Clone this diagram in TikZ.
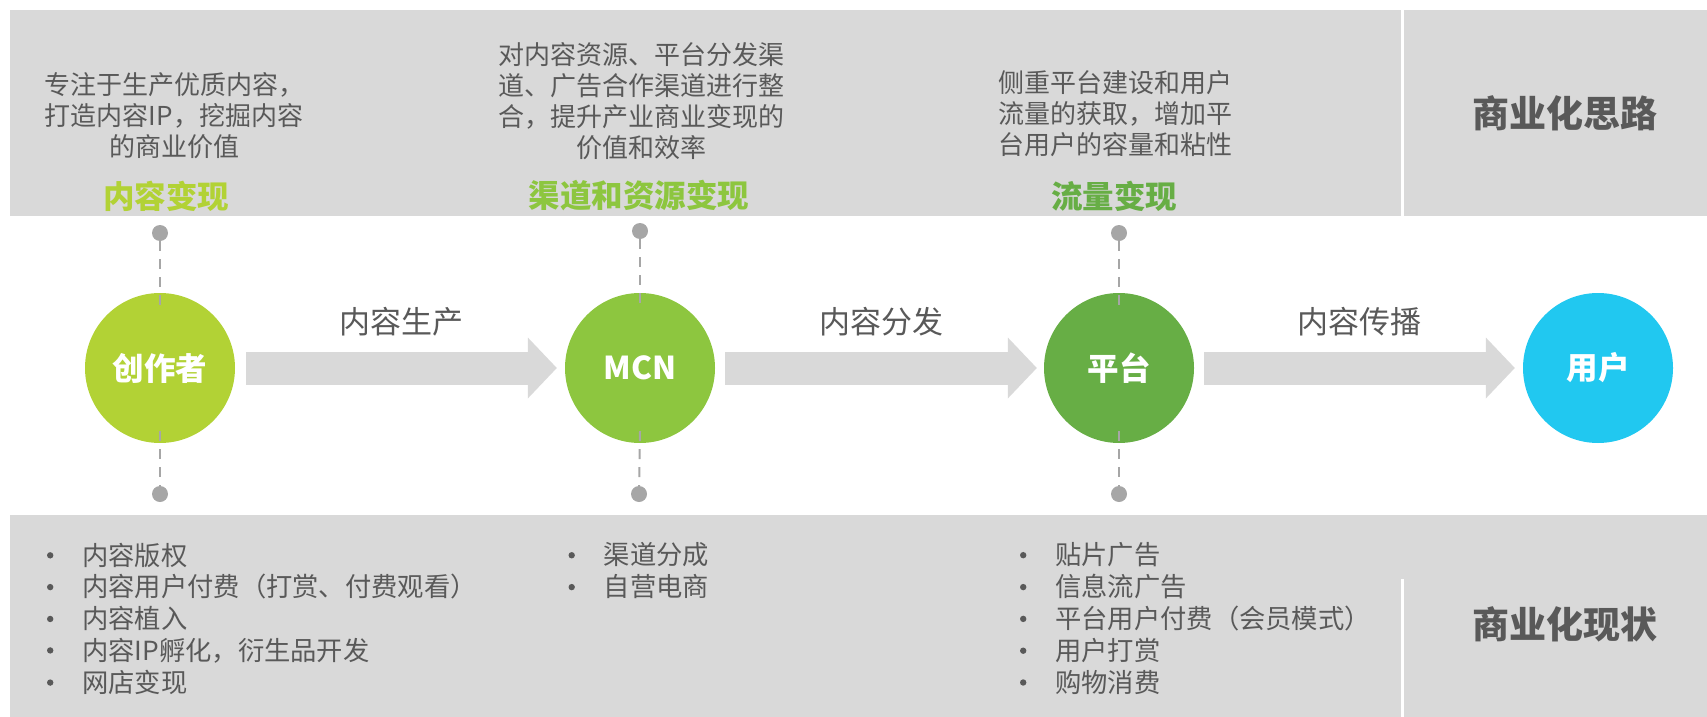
\documentclass[tikz,border=0pt]{standalone}
\usepackage{fontspec}
\setmainfont{Noto Sans CJK SC}
\usetikzlibrary{calc,arrows.meta}
\definecolor{band}{HTML}{D9D9D9}
\definecolor{txt}{HTML}{595959}
\definecolor{dotc}{HTML}{A6A6A6}
\definecolor{cA}{HTML}{B2D235}
\definecolor{cB}{HTML}{8DC63F}
\definecolor{cC}{HTML}{67AE45}
\definecolor{cD}{HTML}{21C8F0}
\newcommand\itembul{\makebox[38pt][l]{\makebox[12pt][c]{\rule[7.5pt]{0pt}{0pt}\raisebox{6.5pt}{\tikz\fill[txt] (0,0) circle (3.2pt);}}}}
\begin{document}
\begin{tikzpicture}[x=1pt,y=-1pt,
  desc/.style={align=center,text=txt,inner sep=0pt,font=\fontsize{26}{31}\selectfont},
  ttl/.style={inner sep=0pt,font=\bfseries\fontsize{31.5}{36}\selectfont},
  circ/.style={circle,minimum size=150pt,inner sep=0pt,text=white,font=\bfseries\fontsize{31.5}{36}\selectfont},
  dotn/.style={circle,fill=dotc,minimum size=16pt,inner sep=0pt},
  dashln/.style={draw=dotc,line width=2pt,dash pattern=on 10pt off 8pt},
  bigarrow/.style={draw=band,line width=33pt,-{Triangle[width=61pt,length=29pt,line width=0pt]}},
  albl/.style={text=txt,inner sep=0pt,yshift=46pt,font=\fontsize{31}{36}\selectfont},
  big/.style={text=txt,inner sep=0pt,font=\bfseries\fontsize{37}{42}\selectfont},
  item/.style={anchor=west,inner sep=0pt,text=txt,font=\fontsize{26.3}{31}\selectfont}]
\useasboundingbox (0,0) rectangle (1707,717);
% bands
\fill[band] (10,10) rectangle (1707,216);
\fill[band] (10,515) rectangle (1707,717);
\fill[white] (1401,10) rectangle (1403.5,216);
\fill[white] (1401,579) rectangle (1403.5,717);
% circles
\node[circ,fill=cA] (n1) at (160,368) {创作者};
\node[circ,fill=cB] (n2) at (640,368) {MCN};
\node[circ,fill=cC] (n3) at (1119,368) {平台};
\node[circ,fill=cD] (n4) at (1598,368) {用户};
% dots
\node[dotn] (u1) at (160,233) {};
\node[dotn] (u2) at (640,231) {};
\node[dotn] (u3) at (1119,233) {};
\node[dotn] (l1) at (160,494) {};
\node[dotn] (l2) at (639,494) {};
\node[dotn] (l3) at (1119,494) {};
% dashed lines
\draw[dashln] (u1) -- ($(n1.north)+(0,12)$);
\draw[dashln] (u2) -- ($(n2.north)+(0,12)$);
\draw[dashln] (u3) -- ($(n3.north)+(0,12)$);
\draw[dashln] ($(n1.south)+(0,-12)$) -- (l1);
\draw[dashln] ($(n2.south)+(0,-12)$) -- (l2);
\draw[dashln] ($(n3.south)+(0,-12)$) -- (l3);
% arrows
\draw[bigarrow] ($(n1.east)+(11,0)$) -- node[albl] (a1) {内容生产} ($(n2.west)+(-8,0)$);
\draw[bigarrow] ($(n2.east)+(10,0)$) -- node[albl] (a2) {内容分发} ($(n3.west)+(-7,0)$);
\draw[bigarrow] ($(n3.east)+(10,0)$) -- node[albl] (a3) {内容传播} ($(n4.west)+(-8,0)$);
% top descriptions
\node[desc] (d1) at (174,116) {专注于生产优质内容，\\打造内容IP，挖掘内容\\的商业价值};
\node[desc] (d2) at (641,101) {对内容资源、平台分发渠\\道、广告合作渠道进行整\\合，提升产业商业变现的\\价值和效率};
\node[desc] (d3) at (1115,114) {侧重平台建设和用户\\流量的获取，增加平\\台用户的容量和粘性};
\node[ttl,text=cA] (t1) at (166,196) {内容变现};
\node[ttl,text=cB] (t2) at (639,196) {渠道和资源变现};
\node[ttl,text=cC] (t3) at (1114,196) {流量变现};
% right labels
\node[big] (s1) at (1565,113) {商业化思路};
\node[big] (s2) at (1565,624) {商业化现状};
% bottom lists
\foreach \t [count=\i] in {内容版权,内容用户付费（打赏、付费观看）,内容植入,内容IP孵化，衍生品开发,网店变现}
  \node[item] (ba\i) at (44,{555+31.8*(\i-1)}) {\itembul\t};
\foreach \t [count=\i] in {渠道分成,自营电商}
  \node[item] (bb\i) at (565.5,{555+31.8*(\i-1)}) {\itembul\t};
\foreach \t [count=\i] in {贴片广告,信息流广告,平台用户付费（会员模式）,用户打赏,购物消费}
  \node[item] (bc\i) at (1017,{555+31.8*(\i-1)}) {\itembul\t};
\end{tikzpicture}
\end{document}
